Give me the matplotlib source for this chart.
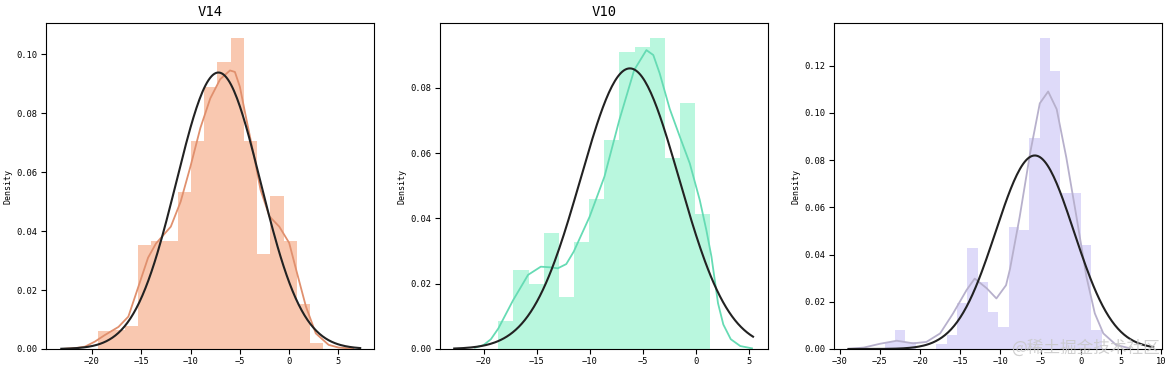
import numpy as np
import matplotlib
matplotlib.use("Agg")
import matplotlib.pyplot as plt

# ─── Data ─────────────────────────────────────────────────────────────────────

titles = ["V14", "V10", ""]

# histogram: first/last bin edge and bar heights (density)
v14_range = (-19.36, 3.46)
v14_hist = [0.0061, 0.0065, 0.0079, 0.0353, 0.0368, 0.0368, 0.0534, 0.0704,
            0.0890, 0.0975, 0.1054, 0.0704, 0.0322, 0.0519, 0.0368, 0.0153, 0.0019]
v10_range = (-18.61, 1.38)
v10_hist = [0.0086, 0.0242, 0.0198, 0.0356, 0.0158, 0.0329, 0.0458, 0.0640,
            0.0908, 0.0923, 0.0951, 0.0584, 0.0752, 0.0412]
v12_range = (-24.38, 2.61)
v12_hist = [0.0030, 0.0080, 0.0030, 0.0, 0.0, 0.0020, 0.0060, 0.0193, 0.0426,
            0.0285, 0.0158, 0.0094, 0.0518, 0.0504, 0.0894, 0.1315, 0.1178,
            0.0661, 0.0661, 0.0440, 0.0080]

# kde curves
v14_kde_x = [-23.0, -21.5, -20.7, -19.7, -18.7, -17.3, -16.3, -15.3, -14.3, -13.5,
             -12.0, -11.0, -10.0, -9.0, -8.0, -7.0, -6.0, -5.5, -5.0, -4.4, -3.6,
             -2.9, -2.0, -1.0, 0.0, 0.7, 1.7, 2.7, 4.0, 5.0, 6.5]
v14_kde_y = [0.0, 0.0004, 0.0008, 0.0025, 0.0047, 0.0075, 0.011, 0.021, 0.031, 0.0358,
             0.0415, 0.050, 0.062, 0.075, 0.085, 0.0915, 0.0945, 0.094, 0.089, 0.079, 0.066,
             0.054, 0.045, 0.0415, 0.036, 0.027, 0.0144, 0.0053, 0.0014, 0.0005, 0.0001]

v10_kde_x = [-20.8, -20.0, -19.3, -18.6, -17.2, -15.8, -14.6, -13.7, -13.0, -12.2,
             -11.5, -10.0, -8.6, -7.2, -5.8, -4.65, -4.0, -3.4, -2.45, -1.5, -0.56,
             0.38, 1.0, 1.48, 2.1, 2.6, 3.3, 4.2, 5.3]
v10_kde_y = [0.0004, 0.0012, 0.003, 0.0063, 0.015, 0.0227, 0.0252, 0.0250, 0.0247, 0.026,
             0.0298, 0.0405, 0.0528, 0.0701, 0.0854, 0.0915, 0.090, 0.0844, 0.0735, 0.065,
             0.0568, 0.0456, 0.0364, 0.0283, 0.014, 0.0075, 0.003, 0.0009, 0.0002]

v12_kde_x = [-28.9, -27.0, -25.0, -22.9, -20.85, -19.2, -17.5, -15.9, -14.2, -13.2,
             -11.7, -10.5, -9.3, -8.8, -7.6, -6.3, -5.1, -4.06, -3.0, -1.8, -0.54,
             0.7, 1.74, 2.8, 4.4, 6.1]
v12_kde_y = [0.0001, 0.0006, 0.0022, 0.0035, 0.0024, 0.003, 0.0066, 0.015, 0.025, 0.0298,
             0.0257, 0.0214, 0.027, 0.034, 0.056, 0.083, 0.104, 0.109, 0.1015, 0.081, 0.056,
             0.0306, 0.0151, 0.0066, 0.0017, 0.0003]

# fitted normal: mu, sigma, x-range
fit_params = [(-7.17, 4.253, -23.1, 7.2),
              (-6.21, 4.644, -22.76, 5.4),
              (-5.72, 4.87, -28.9, 9.0)]

ranges = [v14_range, v10_range, v12_range]
hists = [v14_hist, v10_hist, v12_hist]
kdes = [(v14_kde_x, v14_kde_y), (v10_kde_x, v10_kde_y), (v12_kde_x, v12_kde_y)]

# ─── Styling ──────────────────────────────────────────────────────────────────

bar_colors = ["#f9c8b0", "#b9f7de", "#dedaf9"]
kde_colors = ["#e0906e", "#66dbb4", "#b7b0cc"]
xlims = [(-24.65, 8.6), (-24.1, 6.81), (-30.7, 10.1)]
ylims = [0.1106, 0.0998, 0.138]
lefts = [46, 440, 834]

plt.rcParams["font.family"] = ["DejaVu Sans Mono", "DejaVu Sans"]

W, H = 1173, 371
fig = plt.figure(figsize=(W / 100, H / 100), dpi=100)

for i in range(3):
    ax = fig.add_axes([lefts[i] / W, 22 / H, 328 / W, 326 / H])
    lo, hi = ranges[i]
    edges = np.linspace(lo, hi, len(hists[i]) + 1)
    ax.bar(edges[:-1], hists[i], width=np.diff(edges), align="edge",
           color=bar_colors[i], linewidth=0)
    ax.plot(kdes[i][0], kdes[i][1], color=kde_colors[i], lw=1.3)

    mu, sd, a, b = fit_params[i]
    xs = np.linspace(a, b, 200)
    ax.plot(xs, np.exp(-0.5 * ((xs - mu) / sd) ** 2) / (sd * np.sqrt(2 * np.pi)),
            color="#222222", lw=1.5)

    ax.set_xlim(*xlims[i])
    ax.set_ylim(0, ylims[i])
    ax.set_ylabel("Density", fontsize=6, labelpad=3)
    ax.tick_params(labelsize=6.3, width=0.8, length=3.5, pad=2.5)
    ax.yaxis.set_major_formatter(matplotlib.ticker.FormatStrFormatter("%.2f"))
    if titles[i]:
        ax.set_title(titles[i], fontsize=10, pad=5)

# watermark
fig.text(1160 / W, 23 / H, "@稀土掘金技术社区", ha="right", va="center",
         fontsize=12, color="#c8c8c8", alpha=0.85,
         family=["Noto Sans CJK SC", "DejaVu Sans"])

fig.savefig("out.png", dpi=100)
